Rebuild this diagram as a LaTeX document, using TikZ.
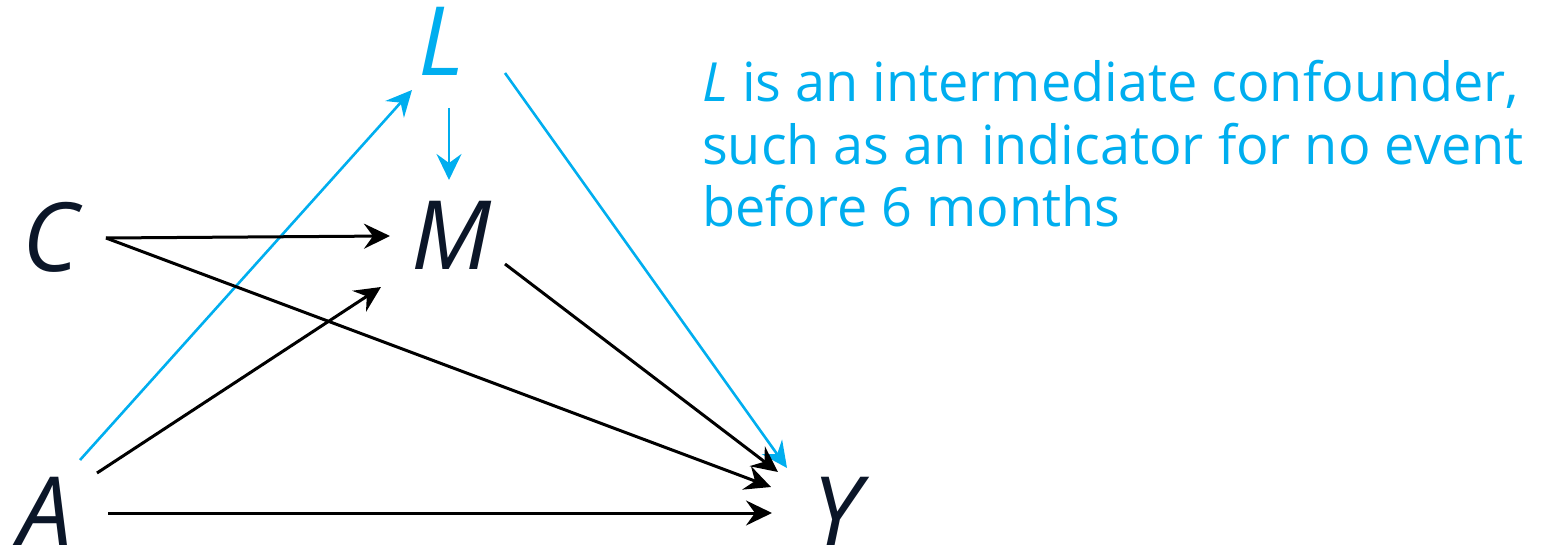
\documentclass[tikz,border=0pt]{standalone}
\usepackage{fontspec}
\setmainfont{Open Sans}
\usepackage{xcolor}
\usetikzlibrary{arrows.meta, calc}
\definecolor{lcyan}{HTML}{00AEEF}
\definecolor{navy}{HTML}{0B1628}

\begin{document}
\begin{tikzpicture}[x=1bp, y=-1bp,
  var/.style={font=\fontsize{96}{96}\selectfont\itshape, text=navy, inner sep=0pt},
  path/.style={line width=3bp, -{Stealth[length=26bp, width=25bp, inset=9bp]}},
  ]
  \useasboundingbox (0,0) rectangle (1542,550);
  % Variables of the diagram
  \node[var, text=lcyan] (L) at (441,41) {L};
  \node[var] (M) at (452,235) {M};
  \node[var] (C) at (51,237) {C};
  \node[var] (A) at (45,511) {A};
  \node[var] (Y) at (837,511) {Y};
  % Intermediate confounder paths
  \draw[path, lcyan, line width=2.6bp] ($(L)+(8,67)$) -- ($(M)+(-3,-55)$);
  \draw[path, lcyan, line width=2.6bp] ($(A)+(35,-51)$) -- ($(L)+(-29,49)$);
  \draw[path, lcyan, line width=2.6bp] ($(L)+(64,32)$) -- ($(Y)+(-50,-43)$);
  % Other paths
  \draw[path] ($(C)+(55,1)$) -- ($(M)+(-62,1)$);
  \draw[path] ($(C)+(55,1)$) -- ($(Y)+(-66,-24)$);
  \draw[path] ($(A)+(52,-38)$) -- ($(M)+(-71,52)$);
  \draw[path] ($(M)+(53,29)$) -- ($(Y)+(-59,-39)$);
  \draw[path] ($(A)+(63,2)$) -- ($(Y)+(-65,2)$);
  % Note
  \node[anchor=base west, align=left, inner sep=0pt, text=lcyan,
    font=\fontsize{54.2}{63}\selectfont] (note) at (702,227)
    {\textit{L} is an intermediate confounder,\\
     such as an indicator for no event\\
     before 6 months};
\end{tikzpicture}
\end{document}
